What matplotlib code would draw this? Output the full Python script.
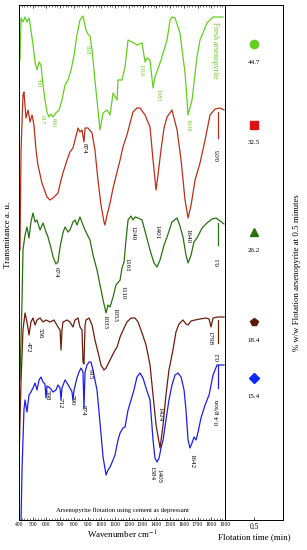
import matplotlib
matplotlib.use("Agg")
import matplotlib.pyplot as plt

plt.rcParams['font.family'] = ['Liberation Serif', 'DejaVu Serif']
plt.rcParams['mathtext.fontset'] = 'stix'

# spectra: wavenumber (cm-1) and offset transmittance (a.u.)
wn_fresh = [407, 415, 429, 444, 458, 473, 487, 502, 517, 531, 546, 560, 575, 589, 604, 618, 633, 648,
            669, 691, 713, 735, 757, 779, 801, 822, 844, 866, 888, 902, 917, 932, 953, 975, 990, 1012,
            1041, 1063, 1085, 1114, 1121, 1150, 1172, 1194, 1223, 1259, 1296, 1318, 1332, 1354, 1376,
            1390, 1427, 1478, 1500, 1514, 1536, 1572, 1609, 1631, 1660, 1696, 1718, 1769, 1813, 1886]
t_fresh = [460, 502, 498, 503, 498, 502, 490, 475, 458, 450, 458, 455, 435, 420, 408, 403, 406, 403,
           407, 410, 420, 435, 440, 450, 465, 485, 500, 504, 490, 486, 484, 470, 440, 410, 390, 407,
           410, 405, 427, 420, 440, 440, 453, 480, 478, 475, 477, 458, 462, 460, 432,
           443, 457, 480, 500, 503, 502, 487, 447, 405, 420, 463, 480, 497, 503, 503]

wn_red = [407, 415, 429, 436, 451, 466, 480, 495, 509, 524, 538, 567, 604, 626, 648, 684, 706, 720,
          750, 771, 793, 808, 830, 844, 859, 873, 881, 902, 932, 953, 975, 997, 1019, 1026, 1041,
          1063, 1085, 1114, 1136, 1157, 1186, 1230, 1259, 1281, 1318, 1354, 1376, 1398, 1412, 1434,
          1456, 1478, 1514, 1551, 1580, 1609, 1631, 1653, 1682, 1718, 1755, 1791, 1827, 1864, 1893]
t_red = [270, 370, 425, 428, 402, 410, 398, 405, 395, 370, 355, 337, 323, 320, 322, 327, 340, 347,
         360, 368, 372, 380, 392, 388, 390, 378, 392, 392, 387, 370, 340, 315, 298, 295, 305,
         317, 332, 348, 360, 373, 385, 408, 412, 412, 405, 393, 360, 330, 345, 370,
         392, 403, 410, 390, 360, 320, 302, 315, 340, 357, 380, 405, 411, 412, 410]

wn_dgreen = [407, 422, 429, 444, 458, 473, 487, 502, 517, 531, 553, 575, 597, 611, 633, 648, 669, 684,
             699, 720, 735, 757, 771, 793, 808, 822, 844, 866, 881, 902, 917, 939, 968, 990, 1012,
             1034, 1048, 1063, 1085, 1106, 1136, 1150, 1165, 1179, 1194, 1216, 1230, 1245, 1267,
             1296, 1325, 1354, 1383, 1405, 1427, 1456, 1478, 1514, 1551, 1572, 1594, 1616, 1631,
             1653, 1674, 1696, 1733, 1769, 1805, 1835, 1864, 1893]
t_dgreen = [140, 220, 270, 285, 293, 282, 298, 307, 298, 300, 290, 297, 288, 283, 272, 263, 256, 258,
            273, 287, 293, 288, 290, 298, 300, 295, 303, 295, 290, 284, 280, 265, 250, 235, 220,
            207, 215, 213, 223, 235, 240, 252, 258, 280, 300, 304, 300, 303, 302,
            300, 285, 270, 257, 253, 260, 275, 283, 298, 302, 294, 283, 265, 257,
            265, 278, 282, 292, 297, 301, 302, 299, 296]

wn_brown = [400, 415, 429, 444, 458, 473, 487, 502, 517, 531, 553, 575, 597, 626, 655, 684, 699, 706,
            713, 720, 750, 771, 793, 808, 830, 844, 859, 866, 873, 881, 888, 910, 932, 953, 975,
            997, 1019, 1034, 1063, 1092, 1114, 1136, 1165, 1186, 1216, 1245, 1267, 1296, 1325,
            1354, 1376, 1398, 1427, 1449, 1470, 1492, 1521, 1543, 1565, 1594, 1616, 1631, 1653,
            1682, 1718, 1762, 1784, 1798, 1813, 1849, 1893]
t_brown = [60, 140, 190, 207, 198, 185, 198, 202, 195, 200, 202, 198, 200, 198, 200, 193, 190, 170,
           190, 198, 200, 198, 193, 200, 202, 193, 190, 158, 156, 195, 200, 202, 195, 180, 168,
           155, 150, 152, 160, 168, 173, 183, 192, 198, 202, 202, 198, 187, 175,
           155, 125, 95, 72, 95, 125, 150, 170, 188, 196, 200, 196, 195, 199,
           200, 201, 202, 201, 193, 202, 203, 203]

wn_blue = [415, 422, 436, 444, 458, 473, 487, 502, 517, 531, 546, 560, 575, 589, 597, 604, 626, 648,
           669, 684, 699, 706, 713, 735, 750, 771, 786, 793, 801, 822, 837, 852, 866, 873, 881,
           895, 910, 924, 939, 953, 968, 990, 1012, 1034, 1048, 1063, 1085, 1099, 1121, 1136,
           1157, 1172, 1194, 1216, 1237, 1259, 1281, 1303, 1325, 1354, 1376, 1390, 1405, 1420,
           1434, 1449, 1470, 1492, 1514, 1536, 1558, 1580, 1602, 1616, 1631, 1645, 1660, 1674,
           1689, 1704, 1725, 1755, 1784, 1813, 1842, 1893]
t_blue = [0, 50, 110, 120, 108, 125, 128, 132, 137, 130, 140, 143, 138, 136, 122, 134, 132, 128,
          130, 135, 132, 120, 132, 140, 137, 132, 128, 120, 130, 142, 148, 152, 148, 112, 148,
          155, 158, 158, 150, 140, 130, 97, 63, 45, 50, 53, 60, 65, 80, 87,
          92, 93, 110, 120, 130, 143, 147, 142, 132, 120, 80, 62, 58, 62,
          72, 80, 100, 120, 135, 145, 147, 143, 130, 110, 80, 72, 77, 83,
          80, 88, 102, 115, 125, 145, 155, 155]

recovery = ['44.7', '32.5', '26.2', '18.4', '15.4']
doses = ['0.05', '0.1', '0.2', '0.4 g/ton']

c_fresh = '#66cc22'
c_red = '#b8301c'
c_dgreen = '#2a7010'
c_brown = '#6b1d0e'
c_blue = '#1f1fe0'

fig = plt.figure(figsize=(3.07, 5.5), dpi=100)
ax = fig.add_axes([19 / 307, 30 / 550, 206 / 307, 515 / 550])
ax2 = fig.add_axes([225 / 307, 30 / 550, 58 / 307, 515 / 550])

lw = 0.9
ax.plot(wn_fresh, t_fresh, color=c_fresh, lw=lw)
ax.plot(wn_red, t_red, color=c_red, lw=lw)
ax.plot(wn_dgreen, t_dgreen, color=c_dgreen, lw=lw)
ax.plot(wn_brown, t_brown, color=c_brown, lw=lw)
ax.plot(wn_blue, t_blue, color=c_blue, lw=lw)

# dose scale bars at the right end of each spectrum
bars = [(c_red, 408, 382, 365), (c_dgreen, 297, 275, 258), (c_brown, 200, 177, 163), (c_blue, 155, 132, 108)]
for (col, top, bot, lab_y), d in zip(bars, doses):
    ax.plot([1849, 1849], [top, bot], color=col, lw=lw)
    ax.text(1849, lab_y, d, rotation=90, fontsize=5, ha='center', va='center')

# peak labels
fresh_peaks = [('500', 538, 437), ('617', 567, 400), ('660', 648, 397), ('858', 895, 470),
               ('1316', 1288, 450), ('1383', 1412, 425), ('1638', 1631, 395)]
for s, x, y in fresh_peaks:
    ax.text(x, y, s, rotation=270, fontsize=4.5, color=c_fresh, ha='center', va='center')
ax.text(1827, 470, 'Fresh arsenopyrite', rotation=270, fontsize=5.5, color=c_fresh,
        ha='center', va='center')

peaks = [('874', 873, 372), ('1401', 1405, 288), ('1640', 1631, 284),
         ('674', 669, 248), ('1033', 1026, 198), ('1053', 1095, 205), ('1110', 1157, 227),
         ('1161', 1186, 255), ('1240', 1230, 287),
         ('472', 466, 173), ('536', 553, 187), ('1798', 1791, 182), ('1424', 1427, 106),
         ('598', 604, 125), ('712', 699, 117), ('790', 786, 120), ('874', 866, 110),
         ('915', 917, 146), ('1384', 1369, 47), ('1405', 1420, 44), ('1642', 1660, 59)]
for s, x, y in peaks:
    ax.text(x, y, s, rotation=270, fontsize=5, ha='center', va='center')

ax.text(1150, 10, 'Arsenopyrite flotation using cement as depressant', fontsize=4.8,
        ha='center', va='center')

ax.set_xlim(400, 1900)
ax.set_ylim(0, 515)
ax.set_xticks(range(400, 1901, 100))
ax.set_xticks(range(400, 1901, 20), minor=True)
ax.set_yticks([])
ax.tick_params(axis='x', which='both', direction='in', top=True, labelsize=4, pad=1.5)
ax.tick_params(axis='x', which='major', length=2.5, width=0.5)
ax.tick_params(axis='x', which='minor', length=1.5, width=0.4)
ax.set_xlabel('Wavenumber cm$^{-1}$', fontsize=6.5, labelpad=1)
for sp in ax.spines.values():
    sp.set_linewidth(0.7)
fig.text(8 / 307, 1 - 235 / 550, 'Transmitance a. u.', rotation=90, fontsize=6.5,
         ha='center', va='center')

# flotation recovery panel
marker_y = [476, 395, 288, 198, 142]
markers = [('o', c_fresh), ('s', '#dd1111'), ('^', c_dgreen), ('p', '#5a1a0a'), ('D', '#0a2aff')]
for (m, col), y, r in zip(markers, marker_y, recovery):
    ax2.plot([0.5], [y], marker=m, color=col, ms=6 if m != 'D' else 5, ls='none')
    ax2.text(0.5, y - 18, r, fontsize=5, ha='center', va='center')
ax2.set_xlim(0, 1)
ax2.set_ylim(0, 515)
ax2.set_xticks([0.5])
ax2.set_xticklabels(['0.5'])
ax2.set_yticks([])
ax2.tick_params(axis='x', direction='in', labelsize=5.5, length=2, width=0.5, pad=2)
ax2.set_xlabel('Flotation time (min)', fontsize=6.5, labelpad=2)
for sp in ax2.spines.values():
    sp.set_linewidth(0.7)
fig.text(297 / 307, 1 - 273 / 550, '% w/w Flotation arsenopyrite at 0.5 minutes', rotation=90,
         fontsize=6.3, ha='center', va='center')

fig.savefig('out.png', dpi=100)
